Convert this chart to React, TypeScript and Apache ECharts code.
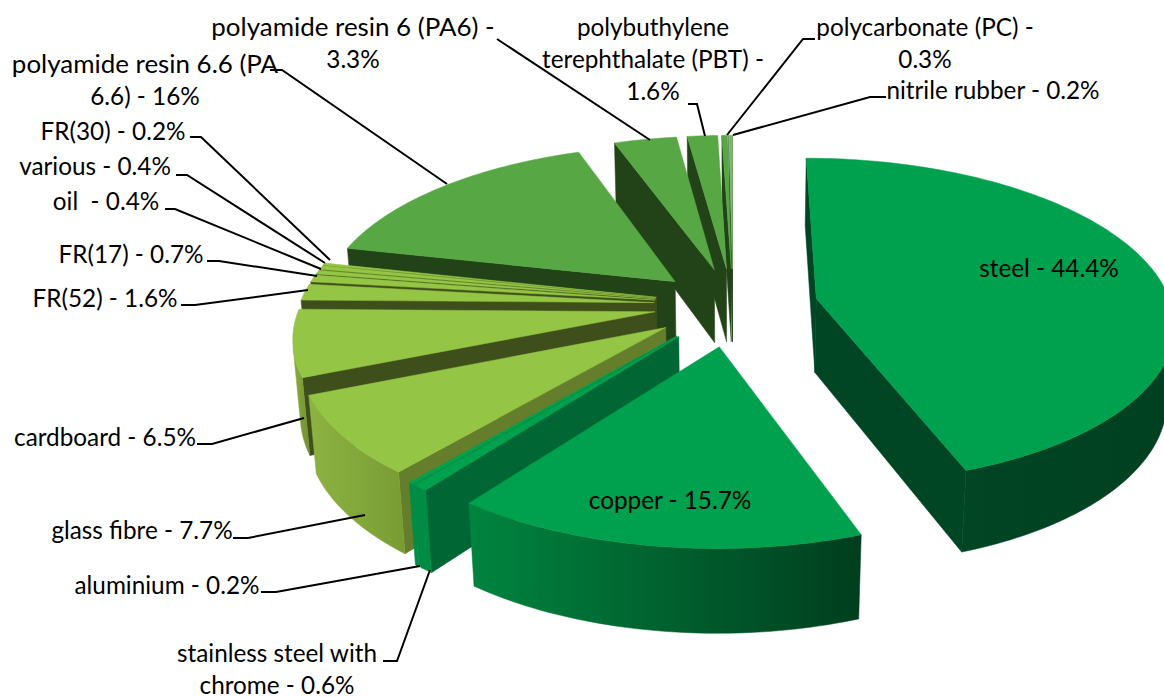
import React, { useEffect, useRef } from "react";
import * as echarts from "echarts";

const names = ["steel","copper","stainless steel with chrome","aluminium","glass fibre","cardboard","FR(52)","FR(17)","oil","various","FR(30)","polyamide resin 6.6 (PA 6.6)","polyamide resin 6 (PA6)","polybuthylene terephthalate (PBT)","polycarbonate (PC)","nitrile rubber"];
const values = [44.4,15.7,0.6,0.2,7.7,6.5,1.6,0.7,0.4,0.4,0.2,16,3.3,1.6,0.3,0.2];
const explodes = [85,90,86,86,82,79,79,79,79,79,79,79,82,82,82,82];
const topColors = ["#00A14E","#00A14E","#00A14E","#00A14E","#95C545","#95C545","#95C545","#95C545","#95C545","#95C545","#95C545","#57A845","#57A845","#57A845","#57A845","#7FB56F"];
const faceColors = ["#004524","#004524","#006633","#008C44","#647E2C","#3F4F1B","#3F4F1B","#3F4F1B","#3F4F1B","#3F4F1B","#3F4F1B","#224218","#224218","#224218","#224218","#224218"];
const wallLeft = ["#004524","#00843F","#008C44","#008C44","#8DB342","#8AAE3D","#8AAE3D","#8AAE3D","#8AAE3D","#8AAE3D","#8AAE3D","#224218","#224218","#224218","#224218","#224218"];
const wallRight = ["#004020","#003E1E","#008C44","#008C44","#789C33","#6F9030","#6F9030","#6F9030","#6F9030","#6F9030","#6F9030","#224218","#224218","#224218","#224218","#224218"];

const labelTexts = ["polyamide resin 6 (PA6) -\n3.3%","polybuthylene\nterephthalate (PBT) -\n1.6%","polycarbonate (PC) -\n0.3%","nitrile rubber - 0.2%","polyamide resin 6.6 (PA\n6.6) - 16%","FR(30) - 0.2%","various - 0.4%","oil  - 0.4%","FR(17) - 0.7%","FR(52) - 1.6%","cardboard - 6.5%","glass fibre - 7.7%","aluminium - 0.2%","stainless steel with\nchrome - 0.6%","steel - 44.4%","copper - 15.7%"];
const labelCenters = [[353,42],[653,58],[925,42],[993,89],[145,79],[113,130],[95,165],[106,200],[131,253],[105,297],[105,436],[142,529],[167,584],[277,668],[1049,267],[670,499]];
const leaderPaths = [
  [[497,39],[650,140]],
  [[688,104],[697,104],[705,136]],
  [[815,39],[803,39],[727,135]],
  [[886,97],[870,97],[733,135]],
  [[270,70],[282,70],[447,184]],
  [[190,137],[201,137],[330,260]],
  [[176,175],[187,175],[325,263]],
  [[165,209],[175,209],[321,269]],
  [[207,261],[219,261],[317,276]],
  [[181,305],[195,305],[308,290]],
  [[197,444],[212,444],[304,418]],
  [[233,538],[248,538],[365,515]],
  [[261,592],[276,592],[420,566]],
  [[383,661],[397,661],[430,570]],
];

// Projection of the tilted pie
const CX = 733, CY = 305, RADIUS = 355, HEIGHT = 85, PERSP = 2300, TILT = (27 * Math.PI) / 180;
const LINE_STEP = 32;
const total = values.reduce((a, b) => a + b, 0);
const project = (X: number, Y: number, Z: number): number[] => {
  const d = Z * Math.cos(TILT) - Y * Math.sin(TILT);
  const v = Z * Math.sin(TILT) + Y * Math.cos(TILT);
  const s = PERSP / (PERSP + d);
  return [CX + X * s, CY - v * s];
};
const area = (p: number[][]) => {
  let a = 0;
  p.forEach((q, i) => { const r = p[(i + 1) % p.length]; a += q[0] * r[1] - r[0] * q[1]; });
  return a / 2;
};
const starts: number[] = [];
values.reduce((acc, v, i) => { starts[i] = acc; return acc + (v / total) * 2 * Math.PI; }, 0);
const mids = values.map((v, i) => starts[i] + (v / total) * Math.PI);
const paintOrder = values.map((_, i) => i).sort((a, b) => Math.cos(mids[b]) - Math.cos(mids[a]));

const renderItem = (_: any, api: any) => {
  const value = api.value(0) as number;
  const i = api.value(1) as number;
  const a0 = starts[i];
  const a1 = a0 + (value / total) * 2 * Math.PI;
  const ex = explodes[i] * Math.sin(mids[i]);
  const ez = explodes[i] * Math.cos(mids[i]);
  const pt = (a: number, r: number, y: number) => project(ex + r * Math.sin(a), y, ez + r * Math.cos(a));
  const n = Math.max(2, Math.ceil((a1 - a0) / 0.02));
  const arc = Array.from({ length: n + 1 }, (_x, k) => a0 + ((a1 - a0) * k) / n);
  const children: any[] = [];
  const apexT = pt(0, 0, 0), apexB = pt(0, 0, -HEIGHT);
  const face = (a: number, front: boolean) => {
    const poly = [apexT, pt(a, RADIUS, 0), pt(a, RADIUS, -HEIGHT), apexB];
    if ((area(poly) > 0) === front)
      children.push({ type: "polygon", shape: { points: poly }, style: { fill: faceColors[i], stroke: faceColors[i], lineWidth: 0.5 } });
  };
  face(a0, false);
  face(a1, true);
  // outer wall: only the part turned to the viewer
  let run: number[] = [];
  const flush = () => {
    if (run.length > 1) {
      const poly = [...run.map((a) => pt(a, RADIUS, 0)), ...run.slice().reverse().map((a) => pt(a, RADIUS, -HEIGHT))];
      const xs = poly.map((p) => p[0]);
      const fill = new echarts.graphic.LinearGradient(Math.min(...xs), 0, Math.max(...xs), 0, [
        { offset: 0, color: wallLeft[i] }, { offset: 1, color: wallRight[i] },
      ], true);
      children.push({ type: "polygon", shape: { points: poly }, style: { fill, stroke: fill, lineWidth: 0.5 } });
    }
    run = [];
  };
  for (let k = 0; k < n; k++) {
    const quad = [pt(arc[k], RADIUS, 0), pt(arc[k + 1], RADIUS, 0), pt(arc[k + 1], RADIUS, -HEIGHT), pt(arc[k], RADIUS, -HEIGHT)];
    if (area(quad) < 0) { if (!run.length) run.push(arc[k]); run.push(arc[k + 1]); } else flush();
  }
  flush();
  children.push({ type: "polygon", shape: { points: [apexT, ...arc.map((a) => pt(a, RADIUS, 0))] }, style: { fill: topColors[i], stroke: topColors[i], lineWidth: 0.5 } });
  return { type: "group", children };
};

const labelElements = labelTexts.flatMap((text, i) => {
  const lines = text.split("\n");
  return lines.map((line, k) => ({
    type: "text", z: 11, silent: true,
    x: labelCenters[i][0],
    y: labelCenters[i][1] + (k - (lines.length - 1) / 2) * LINE_STEP,
    scaleX: line.startsWith("polyamide") ? 1.067 : 1,
    style: { text: line, fill: "#000", font: "24.3px Lato", align: "center", verticalAlign: "middle" },
  }));
});

export default function App() {
  const ref = useRef<HTMLDivElement>(null);
  useEffect(() => {
    const chart = echarts.init(ref.current!, null, { renderer: "svg" });
    chart.setOption({
      animation: false,
      backgroundColor: "#fff",
      series: [{
        type: "custom",
        coordinateSystem: "none",
        silent: true,
        renderItem,
        data: paintOrder.map((i) => ({ name: names[i], value: [values[i], i] })),
        z: 1,
      }],
      graphic: { elements: [
        ...leaderPaths.map((points) => ({ type: "polyline", z: 10, silent: true, shape: { points }, style: { stroke: "#000", lineWidth: 2, fill: "none" } })),
        ...labelElements,
      ] },
    });
    return () => chart.dispose();
  }, []);
  return <div ref={ref} style={{ position: "absolute", left: 0, top: 0, width: 1164, height: 697 }} />;
}
